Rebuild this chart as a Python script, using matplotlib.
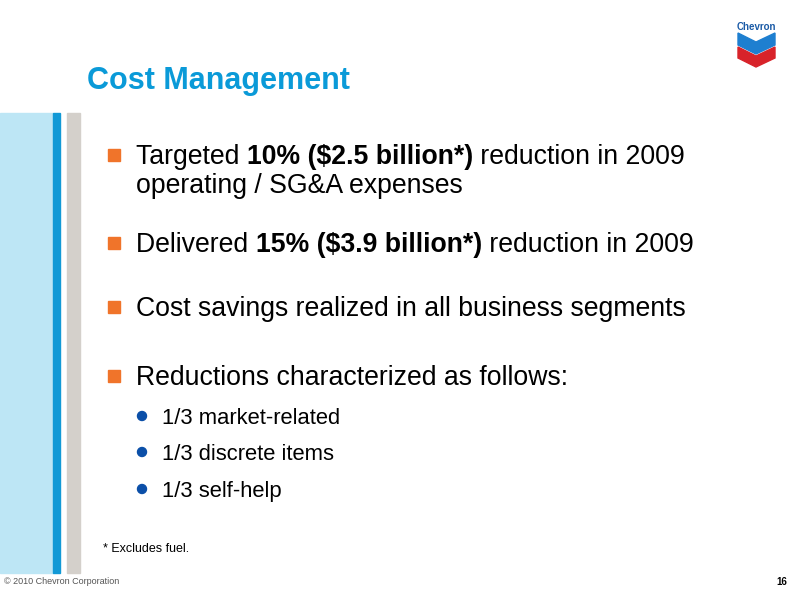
import matplotlib
matplotlib.use("Agg")
import matplotlib.pyplot as plt
from matplotlib.patches import Rectangle, Polygon, Circle

title = "Cost Management"
bullets = [
    [("Targeted ", False), ("10% ($2.5 billion*)", True), (" reduction in 2009", False)],
    [("operating / SG&A expenses", False)],
    [("Delivered ", False), ("15% ($3.9 billion*)", True), (" reduction in 2009", False)],
    [("Cost savings realized in all business segments", False)],
    [("Reductions characterized as follows:", False)],
]
bullet_y = [155, 184, 243, 307, 376]
bullet_mark = [True, False, True, True, True]
subs = ["1/3 market-related", "1/3 discrete items", "1/3 self-help"]
sub_y = [416, 452, 489]
footnote = "* Excludes fuel."
copyright_txt = "\u00a9 2010 Chevron Corporation"
page = "16"

FONT = "Liberation Sans"
fig = plt.figure(figsize=(8, 6), dpi=100)
ax = fig.add_axes([0, 0, 1, 1])
ax.set_xlim(0, 800); ax.set_ylim(600, 0); ax.axis("off")

ax.add_patch(Rectangle((0, 113), 53, 460, color="#bde6f5"))
ax.add_patch(Rectangle((53, 113), 7, 460, color="#1199d6"))
ax.add_patch(Rectangle((67, 113), 13, 460, color="#d4d0cb"))

# logo
ax.text(756, 27, "Chevron", fontsize=7, fontweight="bold", color="#1a5aa6",
        ha="center", va="center", family=FONT)
ax.add_patch(Polygon([(738, 33), (756, 42), (775, 33), (775, 45), (756, 54), (738, 45)], color="#1e7fd0"))
ax.add_patch(Polygon([(738, 47), (756, 56), (775, 47), (775, 58), (756, 67), (738, 58)], color="#d8232a"))

ax.text(87, 77, title, fontsize=22, fontweight="bold", color="#0a9ad8",
        va="center_baseline", family=FONT, transform=ax.transData)

fig.canvas.draw()
r = fig.canvas.get_renderer()
for segs, y, mark in zip(bullets, bullet_y, bullet_mark):
    if mark:
        ax.add_patch(Rectangle((108, y - 6), 12, 12, color="#f0742a"))
    x = 136
    for s, b in segs:
        t = ax.text(x, y + 2, s, fontsize=19.2, fontweight="bold" if b else "normal",
                    color="black", va="center", family=FONT)
        bb = t.get_window_extent(r)
        x += bb.width
for s, y in zip(subs, sub_y):
    ax.add_patch(Circle((142, y), 4.5, color="#0b4fa8"))
    ax.text(162, y + 2, s, fontsize=15.8, va="center", family=FONT)

ax.text(103, 549, footnote, fontsize=9, va="center", family=FONT)
ax.text(4, 582, copyright_txt, fontsize=6.5, color="#555555", va="center", family=FONT)
ax.text(787, 582, page, fontsize=7, fontweight="bold", ha="right", va="center", family=FONT)
fig.savefig("out.png", dpi=100)
